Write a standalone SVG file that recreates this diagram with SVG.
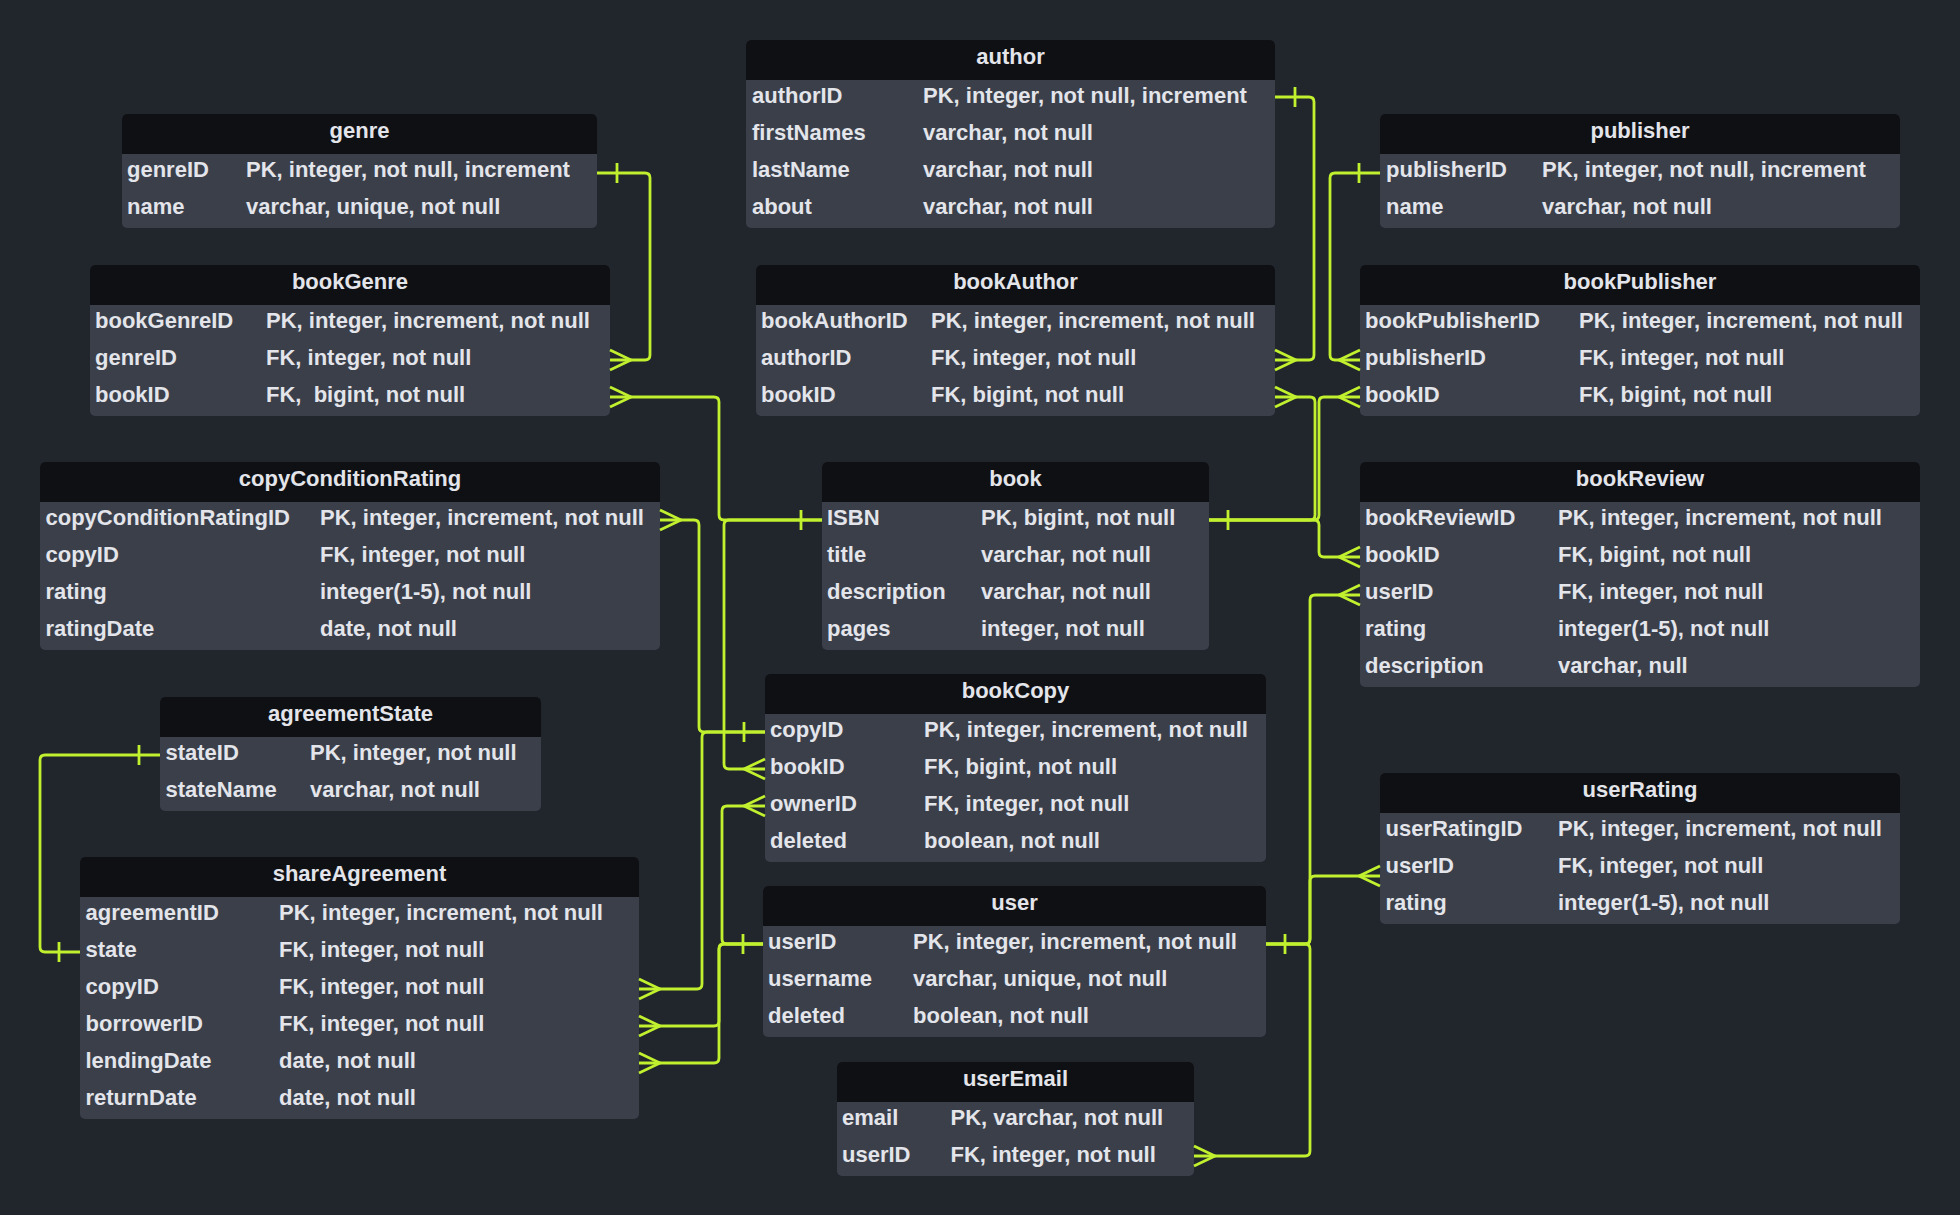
<svg xmlns="http://www.w3.org/2000/svg" xmlns:xlink="http://www.w3.org/1999/xlink" width="1960" height="1215" viewBox="0 0 1960 1215">
<style>
.bd{fill:#3a3f4a}
.hd{fill:#0f1014}
text{font-family:"Liberation Sans",Arial,sans-serif;font-weight:bold;font-size:22px;fill:#e3e5ea}
.h{text-anchor:middle}
.c{fill:none;stroke:#c0f02e;stroke-width:2.8}
</style>
<defs>
<path id="crowR" d="M0,-10 L21,0 L0,10"/>
<path id="crowL" d="M0,-10 L-21,0 L0,10"/>
<path id="tick" d="M0,-10 V10"/>
</defs>
<rect width="1960" height="1215" fill="#21252c"/>

<g id="author">
<rect class="bd" x="746" y="40" width="529" height="188" rx="5"/>
<path class="hd" d="M746,80 V45 A5,5 0 0 1 751,40 H1270 A5,5 0 0 1 1275,45 V80 Z"/>
<text class="h" x="1010.5" y="64">author</text>
<text x="752" y="102.5">authorID</text><text x="923" y="102.5">PK, integer, not null, increment</text>
<text x="752" y="139.5">firstNames</text><text x="923" y="139.5">varchar, not null</text>
<text x="752" y="176.5">lastName</text><text x="923" y="176.5">varchar, not null</text>
<text x="752" y="213.5">about</text><text x="923" y="213.5">varchar, not null</text>
</g>

<g id="genre">
<rect class="bd" x="122" y="114" width="475" height="114" rx="5"/>
<path class="hd" d="M122,154 V119 A5,5 0 0 1 127,114 H592 A5,5 0 0 1 597,119 V154 Z"/>
<text class="h" x="359.5" y="138">genre</text>
<text x="127" y="176.5">genreID</text><text x="246" y="176.5">PK, integer, not null, increment</text>
<text x="127" y="213.5">name</text><text x="246" y="213.5">varchar, unique, not null</text>
</g>

<g id="publisher">
<rect class="bd" x="1380" y="114" width="520" height="114" rx="5"/>
<path class="hd" d="M1380,154 V119 A5,5 0 0 1 1385,114 H1895 A5,5 0 0 1 1900,119 V154 Z"/>
<text class="h" x="1640" y="138">publisher</text>
<text x="1386" y="176.5">publisherID</text><text x="1542" y="176.5">PK, integer, not null, increment</text>
<text x="1386" y="213.5">name</text><text x="1542" y="213.5">varchar, not null</text>
</g>

<g id="bookGenre">
<rect class="bd" x="90" y="265" width="520" height="151" rx="5"/>
<path class="hd" d="M90,305 V270 A5,5 0 0 1 95,265 H605 A5,5 0 0 1 610,270 V305 Z"/>
<text class="h" x="350" y="289">bookGenre</text>
<text x="95" y="327.5">bookGenreID</text><text x="266" y="327.5">PK, integer, increment, not null</text>
<text x="95" y="364.5">genreID</text><text x="266" y="364.5">FK, integer, not null</text>
<text x="95" y="401.5">bookID</text><text x="266" y="401.5" xml:space="preserve" style="white-space:pre">FK,  bigint, not null</text>
</g>

<g id="bookAuthor">
<rect class="bd" x="756" y="265" width="519" height="151" rx="5"/>
<path class="hd" d="M756,305 V270 A5,5 0 0 1 761,265 H1270 A5,5 0 0 1 1275,270 V305 Z"/>
<text class="h" x="1015.5" y="289">bookAuthor</text>
<text x="761" y="327.5">bookAuthorID</text><text x="931" y="327.5">PK, integer, increment, not null</text>
<text x="761" y="364.5">authorID</text><text x="931" y="364.5">FK, integer, not null</text>
<text x="761" y="401.5">bookID</text><text x="931" y="401.5">FK, bigint, not null</text>
</g>

<g id="bookPublisher">
<rect class="bd" x="1360" y="265" width="560" height="151" rx="5"/>
<path class="hd" d="M1360,305 V270 A5,5 0 0 1 1365,265 H1915 A5,5 0 0 1 1920,270 V305 Z"/>
<text class="h" x="1640" y="289">bookPublisher</text>
<text x="1365" y="327.5">bookPublisherID</text><text x="1579" y="327.5">PK, integer, increment, not null</text>
<text x="1365" y="364.5">publisherID</text><text x="1579" y="364.5">FK, integer, not null</text>
<text x="1365" y="401.5">bookID</text><text x="1579" y="401.5">FK, bigint, not null</text>
</g>

<g id="copyConditionRating">
<rect class="bd" x="40" y="462" width="620" height="188" rx="5"/>
<path class="hd" d="M40,502 V467 A5,5 0 0 1 45,462 H655 A5,5 0 0 1 660,467 V502 Z"/>
<text class="h" x="350" y="486">copyConditionRating</text>
<text x="45.5" y="524.5">copyConditionRatingID</text><text x="320" y="524.5">PK, integer, increment, not null</text>
<text x="45.5" y="561.5">copyID</text><text x="320" y="561.5">FK, integer, not null</text>
<text x="45.5" y="598.5">rating</text><text x="320" y="598.5">integer(1-5), not null</text>
<text x="45.5" y="635.5">ratingDate</text><text x="320" y="635.5">date, not null</text>
</g>

<g id="book">
<rect class="bd" x="822" y="462" width="387" height="188" rx="5"/>
<path class="hd" d="M822,502 V467 A5,5 0 0 1 827,462 H1204 A5,5 0 0 1 1209,467 V502 Z"/>
<text class="h" x="1015.5" y="486">book</text>
<text x="827" y="524.5">ISBN</text><text x="981" y="524.5">PK, bigint, not null</text>
<text x="827" y="561.5">title</text><text x="981" y="561.5">varchar, not null</text>
<text x="827" y="598.5">description</text><text x="981" y="598.5">varchar, not null</text>
<text x="827" y="635.5">pages</text><text x="981" y="635.5">integer, not null</text>
</g>

<g id="bookReview">
<rect class="bd" x="1360" y="462" width="560" height="225" rx="5"/>
<path class="hd" d="M1360,502 V467 A5,5 0 0 1 1365,462 H1915 A5,5 0 0 1 1920,467 V502 Z"/>
<text class="h" x="1640" y="486">bookReview</text>
<text x="1365" y="524.5">bookReviewID</text><text x="1558" y="524.5">PK, integer, increment, not null</text>
<text x="1365" y="561.5">bookID</text><text x="1558" y="561.5">FK, bigint, not null</text>
<text x="1365" y="598.5">userID</text><text x="1558" y="598.5">FK, integer, not null</text>
<text x="1365" y="635.5">rating</text><text x="1558" y="635.5">integer(1-5), not null</text>
<text x="1365" y="672.5">description</text><text x="1558" y="672.5">varchar, null</text>
</g>

<g id="agreementState">
<rect class="bd" x="160" y="697" width="381" height="114" rx="5"/>
<path class="hd" d="M160,737 V702 A5,5 0 0 1 165,697 H536 A5,5 0 0 1 541,702 V737 Z"/>
<text class="h" x="350.5" y="721">agreementState</text>
<text x="165.5" y="759.5">stateID</text><text x="310" y="759.5">PK, integer, not null</text>
<text x="165.5" y="796.5">stateName</text><text x="310" y="796.5">varchar, not null</text>
</g>

<g id="bookCopy">
<rect class="bd" x="765" y="674" width="501" height="188" rx="5"/>
<path class="hd" d="M765,714 V679 A5,5 0 0 1 770,674 H1261 A5,5 0 0 1 1266,679 V714 Z"/>
<text class="h" x="1015.5" y="698">bookCopy</text>
<text x="770" y="736.5">copyID</text><text x="924" y="736.5">PK, integer, increment, not null</text>
<text x="770" y="773.5">bookID</text><text x="924" y="773.5">FK, bigint, not null</text>
<text x="770" y="810.5">ownerID</text><text x="924" y="810.5">FK, integer, not null</text>
<text x="770" y="847.5">deleted</text><text x="924" y="847.5">boolean, not null</text>
</g>

<g id="userRating">
<rect class="bd" x="1380" y="773" width="520" height="151" rx="5"/>
<path class="hd" d="M1380,813 V778 A5,5 0 0 1 1385,773 H1895 A5,5 0 0 1 1900,778 V813 Z"/>
<text class="h" x="1640" y="797">userRating</text>
<text x="1385.5" y="835.5">userRatingID</text><text x="1558" y="835.5">PK, integer, increment, not null</text>
<text x="1385.5" y="872.5">userID</text><text x="1558" y="872.5">FK, integer, not null</text>
<text x="1385.5" y="909.5">rating</text><text x="1558" y="909.5">integer(1-5), not null</text>
</g>

<g id="shareAgreement">
<rect class="bd" x="80" y="857" width="559" height="262" rx="5"/>
<path class="hd" d="M80,897 V862 A5,5 0 0 1 85,857 H634 A5,5 0 0 1 639,862 V897 Z"/>
<text class="h" x="359.5" y="881">shareAgreement</text>
<text x="85.5" y="919.5">agreementID</text><text x="279" y="919.5">PK, integer, increment, not null</text>
<text x="85.5" y="956.5">state</text><text x="279" y="956.5">FK, integer, not null</text>
<text x="85.5" y="993.5">copyID</text><text x="279" y="993.5">FK, integer, not null</text>
<text x="85.5" y="1030.5">borrowerID</text><text x="279" y="1030.5">FK, integer, not null</text>
<text x="85.5" y="1067.5">lendingDate</text><text x="279" y="1067.5">date, not null</text>
<text x="85.5" y="1104.5">returnDate</text><text x="279" y="1104.5">date, not null</text>
</g>

<g id="user">
<rect class="bd" x="763" y="886" width="503" height="151" rx="5"/>
<path class="hd" d="M763,926 V891 A5,5 0 0 1 768,886 H1261 A5,5 0 0 1 1266,891 V926 Z"/>
<text class="h" x="1014.5" y="910">user</text>
<text x="768" y="948.5">userID</text><text x="913" y="948.5">PK, integer, increment, not null</text>
<text x="768" y="985.5">username</text><text x="913" y="985.5">varchar, unique, not null</text>
<text x="768" y="1022.5">deleted</text><text x="913" y="1022.5">boolean, not null</text>
</g>

<g id="userEmail">
<rect class="bd" x="837" y="1062" width="357" height="114" rx="5"/>
<path class="hd" d="M837,1102 V1067 A5,5 0 0 1 842,1062 H1189 A5,5 0 0 1 1194,1067 V1102 Z"/>
<text class="h" x="1015.5" y="1086">userEmail</text>
<text x="842" y="1124.5">email</text><text x="950.5" y="1124.5">PK, varchar, not null</text>
<text x="842" y="1161.5">userID</text><text x="950.5" y="1161.5">FK, integer, not null</text>
</g>

<g id="connectors" class="c">
<path d="M597,173 H645 Q650,173 650,178 V355 Q650,360 645,360 H610"/>
<use href="#tick" x="617" y="173"/><use href="#crowR" x="610" y="360"/>
<path d="M610,397 H714 Q719,397 719,402 V515 Q719,520 724,520 H822"/>
<use href="#crowR" x="610" y="397"/><use href="#tick" x="801" y="520"/>
<path d="M660,520 H694 Q699,520 699,525 V727 Q699,732 704,732 H765"/>
<use href="#crowR" x="660" y="520"/><use href="#tick" x="744" y="732"/>
<path d="M639,989 H697 Q702,989 702,984 V737 Q702,732 707,732 H765"/>
<use href="#crowR" x="639" y="989"/>
<path d="M765,769 H729 Q724,769 724,764 V525 Q724,520 729,520 H822"/>
<use href="#crowL" x="765" y="769"/>
<path d="M765,806 H727 Q722,806 722,811 V939 Q722,944 727,944 H763"/>
<use href="#crowL" x="765" y="806"/><use href="#tick" x="743" y="944"/>
<path d="M639,1026 H714 Q719,1026 719,1021 V949 Q719,944 724,944 H763"/>
<use href="#crowR" x="639" y="1026"/>
<path d="M639,1063 H714 Q719,1063 719,1058 V949 Q719,944 724,944 H763"/>
<use href="#crowR" x="639" y="1063"/>
<path d="M160,755 H45 Q40,755 40,760 V947 Q40,952 45,952 H80"/>
<use href="#tick" x="139" y="755"/><use href="#tick" x="59" y="952"/>
<path d="M1275,97 H1309 Q1314,97 1314,102 V355 Q1314,360 1309,360 H1275"/>
<use href="#tick" x="1295" y="97"/><use href="#crowR" x="1275" y="360"/>
<path d="M1380,173 H1335 Q1330,173 1330,178 V355 Q1330,360 1335,360 H1360"/>
<use href="#tick" x="1359" y="173"/><use href="#crowL" x="1360" y="360"/>
<path d="M1209,520 H1310 Q1315,520 1315,515 V402 Q1315,397 1310,397 H1275"/>
<use href="#tick" x="1228" y="520"/><use href="#crowR" x="1275" y="397"/>
<path d="M1209,520 H1314 Q1319,520 1319,515 V402 Q1319,397 1324,397 H1360"/>
<use href="#crowL" x="1360" y="397"/>
<path d="M1209,520 H1314 Q1319,520 1319,525 V552 Q1319,557 1324,557 H1360"/>
<use href="#crowL" x="1360" y="557"/>
<path d="M1266,944 H1305 Q1310,944 1310,939 V600 Q1310,595 1315,595 H1360"/>
<use href="#tick" x="1285" y="944"/><use href="#crowL" x="1360" y="595"/>
<path d="M1266,944 H1305 Q1310,944 1310,939 V881 Q1310,876 1315,876 H1380"/>
<use href="#crowL" x="1380" y="876"/>
<path d="M1266,944 H1305 Q1310,944 1310,949 V1151 Q1310,1156 1305,1156 H1194"/>
<use href="#crowR" x="1194" y="1156"/>
</g>
</svg>
